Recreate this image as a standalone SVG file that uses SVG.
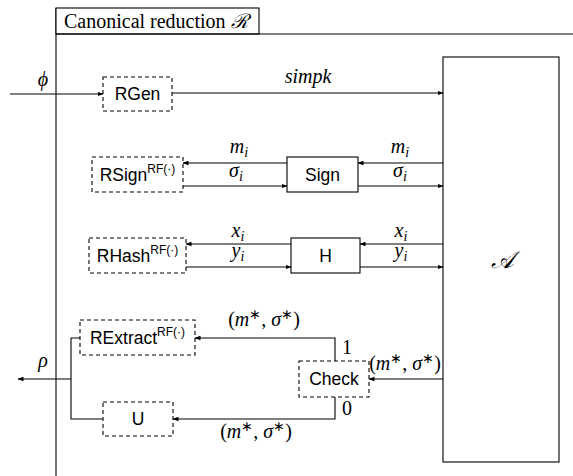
<svg xmlns="http://www.w3.org/2000/svg" width="573" height="476" viewBox="0 0 573 476">
<defs>
<marker id="ah" viewBox="0 0 6 6" refX="5.5" refY="3" markerWidth="6" markerHeight="6" markerUnits="userSpaceOnUse" orient="auto">
<path d="M0,0.8 L6,3 L0,5.2 Z" fill="#000"/>
</marker>
<style>
.ln{fill:none;stroke:#000;stroke-width:1.1}
.arr{fill:none;stroke:#000;stroke-width:1.1;marker-end:url(#ah)}
.box{fill:#fff;stroke:#000;stroke-width:1.1}
.dbox{fill:#fff;stroke:#000;stroke-width:1.1;stroke-dasharray:4 3}
.sans{font-family:"Liberation Sans",Arial,sans-serif;font-size:17.5px;fill:#000;text-anchor:middle}
.sup{font-size:12px}
.math{font-family:"Liberation Serif","Times New Roman",serif;font-size:20px;font-style:italic;fill:#000;text-anchor:middle}
.rm{font-style:normal}
.sub{font-size:14px}
.title{font-family:"Liberation Serif","Times New Roman",serif;font-size:20px;fill:#000}
.cal{font-family:"DejaVu Serif","Liberation Serif",serif;font-size:24px;font-style:italic;fill:#000;text-anchor:middle}
</style>
</defs>
<rect width="573" height="476" fill="#fff"/>

<g id="frame">
<line class="ln" x1="56" y1="8" x2="56" y2="476"/>
<rect class="box" x="56" y="8" width="203" height="26"/>
<line class="ln" x1="56" y1="34" x2="573" y2="34"/>
<text class="title" x="64" y="28">Canonical reduction <tspan font-family="DejaVu Serif, serif" font-style="italic">ℛ</tspan></text>
</g>

<g id="connectors">
<line class="arr" x1="10" y1="94" x2="103" y2="94"/>
<line class="arr" x1="172" y1="93" x2="443" y2="93"/>
<line class="arr" x1="443" y1="163" x2="358" y2="163"/>
<line class="arr" x1="287" y1="163" x2="183" y2="163"/>
<line class="arr" x1="183" y1="186" x2="287" y2="186"/>
<line class="arr" x1="358" y1="186" x2="443" y2="186"/>
<line class="arr" x1="443" y1="244" x2="360" y2="244"/>
<line class="arr" x1="291" y1="244" x2="186" y2="244"/>
<line class="arr" x1="186" y1="267" x2="291" y2="267"/>
<line class="arr" x1="360" y1="267" x2="443" y2="267"/>
<line class="arr" x1="443" y1="379" x2="369" y2="379"/>
<path class="arr" d="M335,361 V338 H195"/>
<path class="arr" d="M335,397 V419 H173"/>
<path class="ln" d="M80,338 H71 V419 H103"/>
<line class="arr" x1="71" y1="379" x2="18" y2="379"/>
</g>

<g id="labels">
<text class="math" x="43" y="86">ϕ</text>
<text class="math" x="308" y="83">simpk</text>
<text class="math" x="239" y="153">m<tspan class="sub" dy="4">i</tspan></text>
<text class="math" x="236" y="177">σ<tspan class="sub" dy="4">i</tspan></text>
<text class="math" x="400" y="153">m<tspan class="sub" dy="4">i</tspan></text>
<text class="math" x="400" y="177">σ<tspan class="sub" dy="4">i</tspan></text>
<text class="math" x="238" y="237">x<tspan class="sub" dy="4">i</tspan></text>
<text class="math" x="238" y="257">y<tspan class="sub" dy="4">i</tspan></text>
<text class="math" x="401" y="237">x<tspan class="sub" dy="4">i</tspan></text>
<text class="math" x="401" y="257">y<tspan class="sub" dy="4">i</tspan></text>
<text class="math" x="264" y="326"><tspan class="rm">(</tspan>m<tspan class="sub rm" dy="-7">∗</tspan><tspan class="rm" dy="7">, </tspan>σ<tspan class="sub rm" dy="-7">∗</tspan><tspan class="rm" dy="7">)</tspan></text>
<text class="math" x="405" y="370"><tspan class="rm">(</tspan>m<tspan class="sub rm" dy="-7">∗</tspan><tspan class="rm" dy="7">, </tspan>σ<tspan class="sub rm" dy="-7">∗</tspan><tspan class="rm" dy="7">)</tspan></text>
<text class="math" x="256" y="438"><tspan class="rm">(</tspan>m<tspan class="sub rm" dy="-7">∗</tspan><tspan class="rm" dy="7">, </tspan>σ<tspan class="sub rm" dy="-7">∗</tspan><tspan class="rm" dy="7">)</tspan></text>
<text class="math rm" x="347" y="354">1</text>
<text class="math rm" x="347" y="415">0</text>
<text class="math" x="43" y="367">ρ</text>
</g>

<g id="A">
<rect class="box" x="443" y="57" width="116" height="405"/>
<text class="cal" x="502" y="268">𝒜</text>
</g>

<g id="RGen">
<rect class="dbox" x="103" y="77" width="69" height="34"/>
<text class="sans" x="137.5" y="100">RGen</text>
</g>

<g id="RSign">
<rect class="dbox" x="92" y="157" width="91" height="35"/>
<text class="sans" x="137.5" y="181">RSign<tspan class="sup" dy="-8">RF(·)</tspan></text>
</g>

<g id="Sign">
<rect class="box" x="287" y="157" width="71" height="35"/>
<text class="sans" x="322.5" y="181">Sign</text>
</g>

<g id="RHash">
<rect class="dbox" x="89" y="238" width="97" height="35"/>
<text class="sans" x="137.5" y="262">RHash<tspan class="sup" dy="-8">RF(·)</tspan></text>
</g>

<g id="H">
<rect class="box" x="291" y="238" width="69" height="35"/>
<text class="sans" x="325.5" y="262">H</text>
</g>

<g id="RExtract">
<rect class="dbox" x="80" y="320" width="115" height="35"/>
<text class="sans" x="137.5" y="344">RExtract<tspan class="sup" dy="-8">RF(·)</tspan></text>
</g>

<g id="Check">
<rect class="dbox" x="299" y="361" width="70" height="36"/>
<text class="sans" x="334" y="385">Check</text>
</g>

<g id="U">
<rect class="dbox" x="103" y="402" width="70" height="34"/>
<text class="sans" x="138" y="425">U</text>
</g>
</svg>
